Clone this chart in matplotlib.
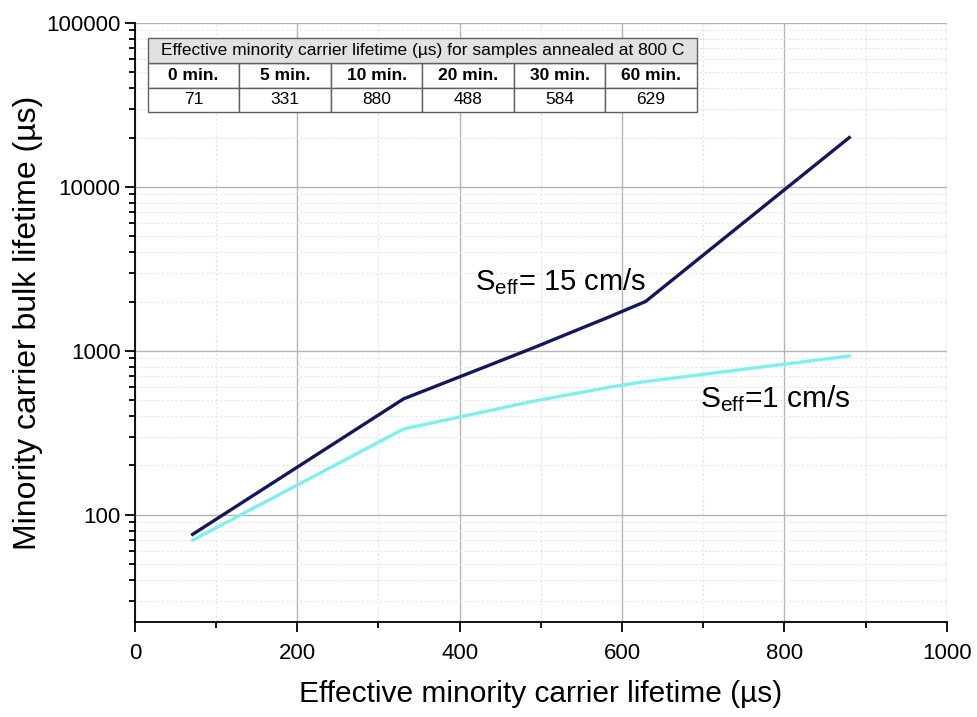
import numpy as np
import matplotlib.pyplot as plt
from matplotlib.patches import Rectangle
from matplotlib.ticker import LogLocator, MultipleLocator, FixedLocator

plt.rcParams['font.family'] = ['Liberation Sans', 'DejaVu Sans']

# datos
tau_eff = [71, 331, 488, 584, 629, 880]
tau_bulk_15 = [76, 510, 1030, 1610, 2000, 20000]   # S_eff = 15 cm/s
tau_bulk_1 = [70, 334, 490, 600, 650, 930]         # S_eff = 1 cm/s

tabla_titulo = "Effective minority carrier lifetime (µs) for samples annealed at 800 C"
tabla_tiempos = ["0 min.", "5 min.", "10 min.", "20 min.", "30 min.", "60 min."]
tabla_valores = ["71", "331", "880", "488", "584", "629"]

fig = plt.figure(figsize=(9.78, 7.17), dpi=100)
ax = fig.add_axes([0.138, 0.1325, 0.830, 0.8355])

ax.plot(tau_eff, tau_bulk_1, color="#80f0ee", lw=2.4, zorder=3)
ax.plot(tau_eff, tau_bulk_15, color="#15175e", lw=2.4, zorder=4)

ax.set_yscale("log")
ax.set_xlim(0, 1000)
ax.set_ylim(22.2, 100000)
ax.xaxis.set_major_locator(MultipleLocator(200))
ax.xaxis.set_minor_locator(MultipleLocator(100))
ax.yaxis.set_major_locator(FixedLocator([100, 1000, 10000, 100000]))
ax.yaxis.set_minor_locator(LogLocator(base=10, subs=np.arange(2, 10)))
ax.yaxis.set_major_formatter(plt.FuncFormatter(lambda v, p: "%d" % v))
ax.yaxis.set_minor_formatter(plt.NullFormatter())

ax.grid(True, which="major", color="#b4b4b4", lw=1.0)
ax.grid(True, which="minor", color="#e4e4e4", lw=0.8, ls=(0, (2, 2)))
ax.set_axisbelow(True)

for s in ["top", "right"]:
    ax.spines[s].set_visible(False)
ax.spines["left"].set_linewidth(1.3)
ax.spines["bottom"].set_linewidth(1.3)
ax.tick_params(which="major", direction="out", length=7, width=1.3, labelsize=16)
ax.tick_params(which="minor", direction="out", length=4, width=1.3)
ax.tick_params(axis="x", pad=8)

ax.set_xlabel("Effective minority carrier lifetime (µs)", fontsize=21.5, labelpad=12)
ax.set_ylabel("Minority carrier bulk lifetime (µs)", fontsize=23, labelpad=2)

ax.text(419, 2640, r"$\mathregular{S_{eff}}$= 15 cm/s", fontsize=21, va="center")
ax.text(696, 510, r"$\mathregular{S_{eff}}$=1 cm/s", fontsize=21.5, va="center")

# tabla
tx, ty, tw, th = 0.016, 0.851, 0.676, 0.1235
tab = ax.table(cellText=[tabla_tiempos, tabla_valores], cellLoc="center",
               bbox=[tx, ty, tw, th * 2 / 3], zorder=6)
tab.auto_set_font_size(False)
for (r, c), cell in tab.get_celld().items():
    cell.set_edgecolor("#606060")
    cell.set_linewidth(1.0)
    cell.set_facecolor("white")
    cell.get_text().set_fontsize(12.5)
    if r == 0:
        cell.get_text().set_fontweight("bold")
ax.add_patch(Rectangle((tx, ty + th * 2 / 3), tw, th / 3, transform=ax.transAxes,
                       facecolor="#e2e2e2", edgecolor="#606060", lw=1.0, zorder=6))
ax.text(tx + tw / 2, ty + th * 5 / 6, tabla_titulo,
        transform=ax.transAxes, ha="center", va="center", fontsize=12.5, zorder=7)

fig.savefig("out.png", dpi=100)
